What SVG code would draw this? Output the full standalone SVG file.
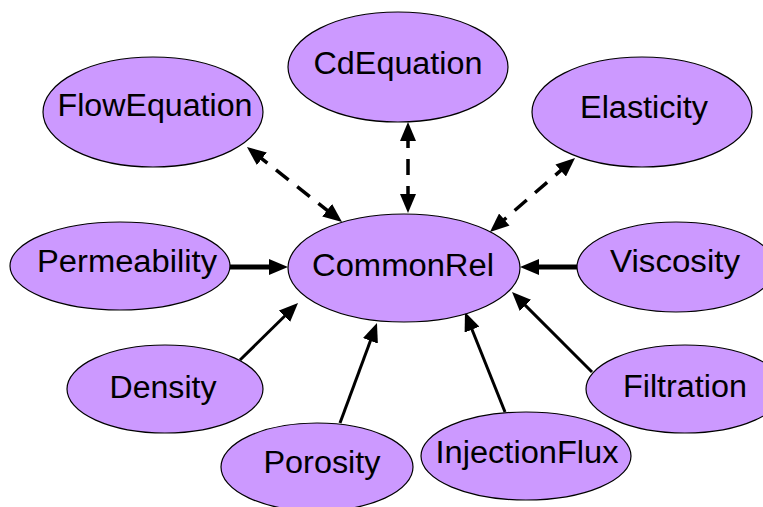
<svg xmlns="http://www.w3.org/2000/svg" width="763" height="507" viewBox="0 0 763 507">
<style>
.node ellipse{fill:#CC99FF;stroke:#000;stroke-width:1.2}
.node text{font-family:"Liberation Sans",Arial,sans-serif;font-size:31px;fill:#000;text-anchor:middle}
.edge{stroke:#000;fill:none;stroke-width:3}
.thick{stroke-width:5}
.dash{stroke-width:3.5;stroke-dasharray:16 11}
</style>
<defs>
<marker id="ah" viewBox="0 0 19 16" refX="9" refY="8" markerWidth="19" markerHeight="16" markerUnits="userSpaceOnUse" orient="auto-start-reverse">
<path d="M0,0 L19,8 L0,16 z" fill="#000"/>
</marker>
</defs>
<rect width="763" height="507" fill="#fff"/>
<g id="connectors">
<path class="edge thick" d="M230,267 L278,267" marker-end="url(#ah)"/>
<path class="edge thick" d="M577,267 L530,267" marker-end="url(#ah)"/>
<path class="edge" d="M240,360 L290.9,310" marker-end="url(#ah)"/>
<path class="edge" d="M340,423 L373.5,332.4" marker-end="url(#ah)"/>
<path class="edge" d="M505,412 L468.7,321.3" marker-end="url(#ah)"/>
<path class="edge" d="M592,372 L519.1,299.1" marker-end="url(#ah)"/>
<path class="edge dash" d="M254.8,153.2 L334.2,215.8" marker-start="url(#ah)" marker-end="url(#ah)"/>
<path class="edge dash" d="M408,132 L408,203" marker-start="url(#ah)" marker-end="url(#ah)"/>
<path class="edge dash" d="M567.5,164.6 L497.5,225.4" marker-start="url(#ah)" marker-end="url(#ah)"/>
</g>
<g id="CdEquation" class="node"><ellipse cx="398" cy="67" rx="110" ry="55"/><text x="398" y="74" textLength="169" lengthAdjust="spacingAndGlyphs">CdEquation</text></g>
<g id="FlowEquation" class="node"><ellipse cx="153" cy="112" rx="110" ry="55"/><text x="155" y="116" textLength="195" lengthAdjust="spacingAndGlyphs">FlowEquation</text></g>
<g id="Elasticity" class="node"><ellipse cx="642" cy="112" rx="110" ry="55"/><text x="644" y="118" textLength="128" lengthAdjust="spacingAndGlyphs">Elasticity</text></g>
<g id="Permeability" class="node"><ellipse cx="120" cy="266" rx="110" ry="44"/><text x="127" y="272" textLength="180" lengthAdjust="spacingAndGlyphs">Permeability</text></g>
<g id="CommonRel" class="node"><ellipse cx="404" cy="268" rx="116" ry="54"/><text x="403" y="276" textLength="182" lengthAdjust="spacingAndGlyphs">CommonRel</text></g>
<g id="Viscosity" class="node"><ellipse cx="676" cy="267" rx="99" ry="45"/><text x="675" y="272" textLength="130" lengthAdjust="spacingAndGlyphs">Viscosity</text></g>
<g id="Density" class="node"><ellipse cx="165" cy="389" rx="98" ry="44"/><text x="163" y="398" textLength="107" lengthAdjust="spacingAndGlyphs">Density</text></g>
<g id="Filtration" class="node"><ellipse cx="685" cy="389" rx="99" ry="44"/><text x="685" y="397" textLength="124" lengthAdjust="spacingAndGlyphs">Filtration</text></g>
<g id="Porosity" class="node"><ellipse cx="317" cy="467" rx="96" ry="44"/><text x="322" y="473" textLength="117" lengthAdjust="spacingAndGlyphs">Porosity</text></g>
<g id="InjectionFlux" class="node"><ellipse cx="526" cy="456" rx="105" ry="44"/><text x="527" y="463" textLength="183" lengthAdjust="spacingAndGlyphs">InjectionFlux</text></g>
</svg>
